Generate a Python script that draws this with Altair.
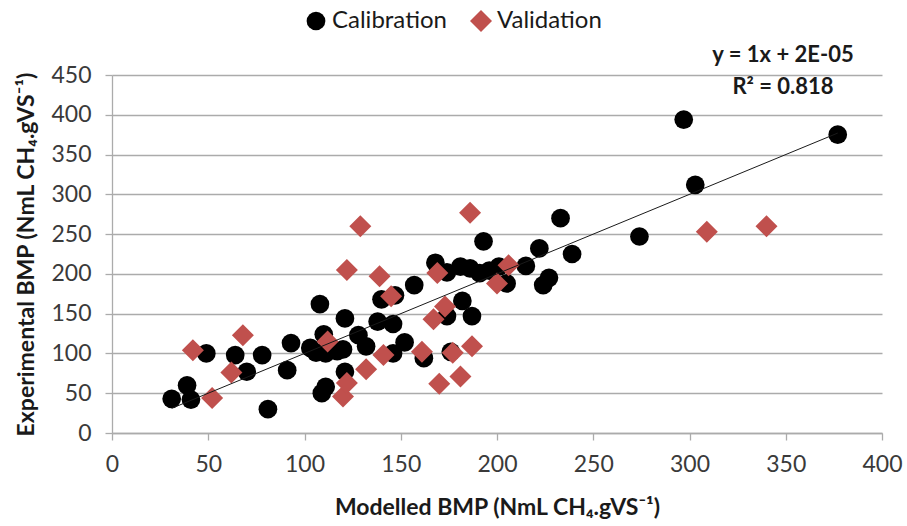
import altair as alt
import pandas as pd

# Calibration points (Modelled, Experimental)
cal_x = [31, 39, 41, 49, 64, 70, 78, 81, 91, 93, 103, 106, 111, 117, 120, 108, 110, 121, 121, 109,
         111, 128, 132, 138, 146, 152, 146, 140, 147, 157, 162, 168, 174, 174, 182, 187, 176, 181,
         186, 191, 196, 201, 193, 205, 215, 222, 224, 227, 233, 239, 274, 297, 303, 377]
cal_y = [43, 60, 42, 100, 98, 77, 98, 30, 79, 113, 107, 101, 100, 103, 105, 162, 124, 144, 77, 50,
         58, 123, 109, 140, 137, 114, 100, 168, 173, 186, 94, 214, 202, 147, 166, 147, 102, 209,
         207, 201, 204, 209, 241, 188, 210, 232, 186, 195, 270, 225, 247, 394, 312, 375]

# Validation points
val_x = [42, 52, 62, 68, 112, 120, 122, 122, 129, 132, 139, 141, 145, 161, 167, 169, 170, 173,
         177, 181, 186, 187, 200, 206, 309, 340]
val_y = [104, 44, 76, 123, 115, 46, 63, 205, 260, 80, 197, 98, 172, 102, 143, 201, 62, 159,
         101, 71, 277, 109, 188, 211, 253, 260]

# Linear trendline endpoints (y = 1x + 2E-05)
trend_x = [31, 377]
trend_y = [31, 377]

series_names = ["Calibration", "Validation"]
series_colors = ["#000000", "#C0504D"]
series_shapes = ["circle", "diamond"]
series_sizes = [350, 484]
equation_line1 = ["y = 1x + 2E-05"]
equation_line2 = ["R² = 0.818"]

x_ticks = list(range(0, 401, 50))
y_ticks = list(range(0, 451, 50))

points = pd.DataFrame({
    "x": cal_x + val_x,
    "y": cal_y + val_y,
    "series": [series_names[0]] * len(cal_x) + [series_names[1]] * len(val_x),
})
trend = pd.DataFrame({"x": trend_x, "y": trend_y})

FONT = "Lato"
GRID = "#ABABAB"

xscale = alt.Scale(domain=[0, 400], nice=False, zero=False)
yscale = alt.Scale(domain=[0, 450], nice=False, zero=False)

x_axis = alt.Axis(values=x_ticks, title="Modelled BMP (NmL CH₄.gVS⁻¹)", grid=False,
                  labelOverlap=False, labelFlush=False, tickCount=9)
y_axis = alt.Axis(values=y_ticks, title="Experimental BMP (NmL CH₄.gVS⁻¹)", grid=True,
                  labelOverlap=False, labelFlush=False, tickCount=10)

pts = alt.Chart(points).mark_point(filled=True, opacity=1).encode(
    x=alt.X("x:Q", scale=xscale, axis=x_axis),
    y=alt.Y("y:Q", scale=yscale, axis=y_axis),
    color=alt.Color("series:N", scale=alt.Scale(domain=series_names, range=series_colors),
                    legend=alt.Legend(title=None, orient="none", direction="horizontal",
                                      legendX=192, legendY=-66)),
    shape=alt.Shape("series:N", scale=alt.Scale(domain=series_names, range=series_shapes)),
    size=alt.Size("series:N", scale=alt.Scale(domain=series_names, range=series_sizes), legend=None),
)

line = alt.Chart(trend).mark_line(color="#1a1a1a", strokeWidth=1).encode(
    x=alt.X("x:Q", scale=xscale, axis=x_axis),
    y=alt.Y("y:Q", scale=yscale, axis=y_axis),
)

def eq_layer(lines, ypix):
    return alt.Chart(pd.DataFrame({"label": lines})).mark_text(
        font=FONT, fontSize=22, fontWeight="bold", color="#1a1a1a",
        align="center", baseline="middle"
    ).encode(text="label:N", x=alt.value(671), y=alt.value(ypix))

chart = alt.layer(pts, line, eq_layer(equation_line1, -20), eq_layer(equation_line2, 12)).properties(
    width=770, height=358,
    autosize=alt.AutoSizeParams(type="none"),
    padding={"left": 112, "top": 75, "right": 25, "bottom": 93},
).configure_view(strokeWidth=0).configure_axis(
    labelFont=FONT, labelFontSize=23, labelColor="#3a3a3a",
    titleFont=FONT, titleFontSize=23, titleFontWeight="bold", titleColor="#1a1a1a",
    domainColor=GRID, domainWidth=1.3, tickColor=GRID, tickWidth=1.3, tickSize=7,
    gridColor=GRID, gridWidth=1.3, labelOverlap=False,
).configure_axisX(labelPadding=13, titlePadding=20).configure_axisY(
    labelPadding=14, titlePadding=12
).configure_legend(
    labelFont=FONT, labelFontSize=24, labelColor="#1a1a1a", symbolSize=170,
    symbolStrokeWidth=0, columnPadding=22, labelOffset=4, padding=0,
)

chart.save("out.html", embed_options={"renderer": "svg", "actions": False})
